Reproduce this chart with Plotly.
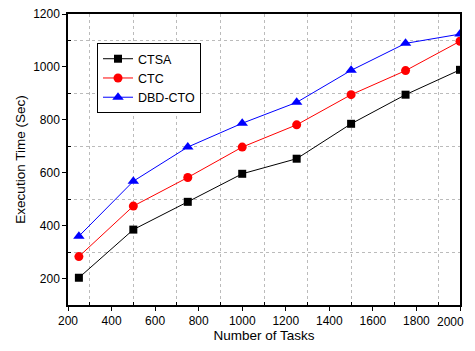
import plotly.graph_objects as go

tasks = [250, 500, 750, 1000, 1250, 1500, 1750, 2000]
ctsa = [203, 385, 490, 596, 653, 785, 895, 989]
ctc = [283, 474, 582, 697, 781, 895, 986, 1097]
dbd_cto = [360, 568, 697, 787, 866, 987, 1089, 1124]
x_ticks = [200, 400, 600, 800, 1000, 1200, 1400, 1600, 1800, 2000]

series = [
    ("CTSA", ctsa, "black", "square", 8),
    ("CTC", ctc, "red", "circle", 9),
    ("DBD-CTO", dbd_cto, "blue", "triangle-up", 10),
]

fig = go.Figure()
for name, vals, col, sym, sz in series:
    fig.add_trace(go.Scatter(
        x=tasks, y=vals, name=name, mode="lines+markers",
        line=dict(color=col, width=1),
        marker=dict(color=col, symbol=sym, size=sz),
    ))

font = "Liberation Sans, Arial, sans-serif"
axis_common = dict(
    showline=True, linecolor="black", linewidth=1.5, mirror=True,
    ticks="outside", ticklen=4, tickcolor="black", tickwidth=1.2,
    showgrid=False, zeroline=False, ticklabeloverflow="allow",
    tickfont=dict(family=font, size=12, color="black"),
)
minor_common = dict(dtick=200, tick0=300, showgrid=True, gridcolor="#bbbbbb",
                    griddash="dot", gridwidth=1, ticks="inside", ticklen=3,
                    tickcolor="black")

# the last x tick label is drawn as an annotation nudged left so it stays visible
last_tick = x_ticks[-1]
fig.add_annotation(x=last_tick, xref="x", y=0, yref="paper", text=str(last_tick),
                   showarrow=False, xanchor="right", xshift=6,
                   yanchor="middle", yshift=-16.5,
                   font=dict(family=font, size=12, color="black"))

# page body has an 8px default margin, so the figure is sized to fit
fig.update_layout(
    width=459, height=335,
    margin=dict(l=60, r=7, t=6, b=38, autoexpand=False),
    paper_bgcolor="white", plot_bgcolor="white",
    font=dict(family=font, color="black"),
    xaxis=dict(
        range=[200, 2000], tickvals=x_ticks,
        ticktext=[str(v) for v in x_ticks[:-1]] + [""],
        title=dict(text="Number of Tasks", font=dict(size=13.5), standoff=7),
        minor=minor_common,
        **axis_common,
    ),
    yaxis=dict(
        range=[100, 1200], dtick=200, tick0=200,
        title=dict(text="Execution Time (Sec)", font=dict(size=13.5), standoff=4),
        minor=minor_common,
        **axis_common,
    ),
    legend=dict(
        x=0.074, y=0.90, xanchor="left", yanchor="top",
        bgcolor="white", bordercolor="black", borderwidth=1,
        font=dict(family=font, size=12.5, color="black"),
        tracegroupgap=0, itemwidth=30,
    ),
    showlegend=True,
)

fig.write_html("out.html")
